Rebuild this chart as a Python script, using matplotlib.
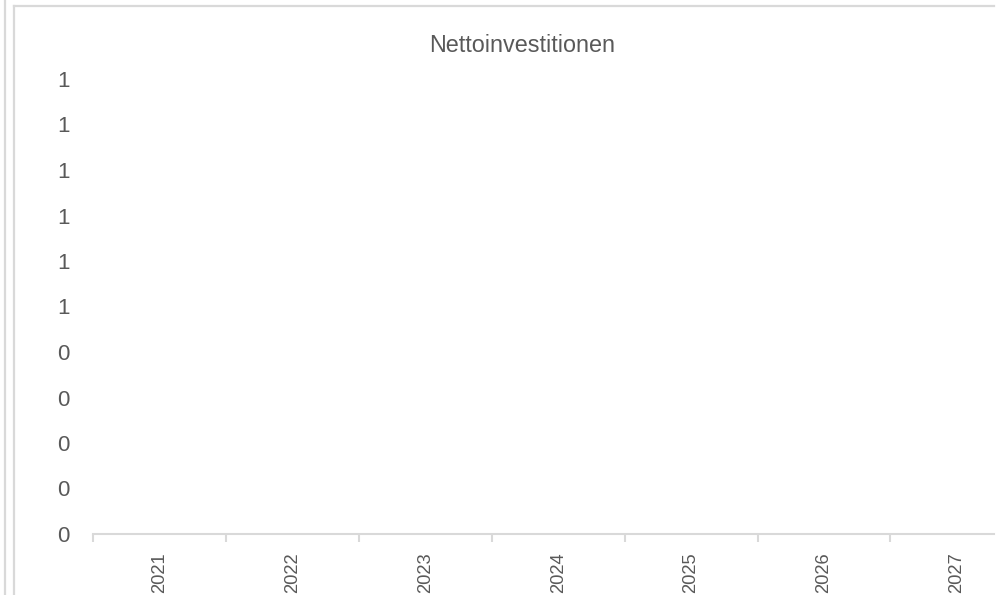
import matplotlib
matplotlib.use("Agg")
import matplotlib.pyplot as plt
from matplotlib.lines import Line2D

plt.rcParams['font.family'] = ['Liberation Sans', 'DejaVu Sans']

# data
years = ['2021', '2022', '2023', '2024', '2025', '2026', '2027']
values = [0, 0, 0, 0, 0, 0, 0]   # no visible series in the chart
y_ticks = [0.0, 0.1, 0.2, 0.3, 0.4, 0.5, 0.6, 0.7, 0.8, 0.9, 1.0]
y_labels = ['0', '0', '0', '0', '0', '1', '1', '1', '1', '1', '1']
title = 'Nettoinvestitionen'

W, H = 1004, 595
txt = '#595959'
grid = '#d9d9d9'

fig = plt.figure(figsize=(W / 100, H / 100), dpi=100)

# plot area: category slots are ~133 px wide, right side is cut at x=994
x0, x1 = 93, 994
y0, y1 = 534, 79
slot = 132.9
ax = fig.add_axes([x0 / W, (H - y0) / H, (x1 - x0) / W, (y0 - y1) / H])

pos = list(range(len(years)))
ax.bar(pos, values, width=0.6, color='#4472c4')
ax.set_xlim(-0.5, -0.5 + (x1 - x0) / slot)
ax.set_ylim(0, 1)

ax.set_yticks(y_ticks)
ax.set_yticklabels(y_labels)
ax.tick_params(axis='y', length=0, pad=17, labelsize=16, labelcolor=txt)

# category labels at centers, tick marks at boundaries
ax.set_xticks(pos)
ax.set_xticklabels(years, rotation=90)
ax.tick_params(axis='x', which='major', length=0, pad=13, labelsize=13.2,
               labelcolor=txt)
ax.set_xticks([p - 0.5 for p in pos], minor=True)
ax.tick_params(axis='x', which='minor', length=6, width=1.5, color=grid,
               direction='out')

for s in ['left', 'right', 'top']:
    ax.spines[s].set_visible(False)
ax.spines['bottom'].set_color(grid)
ax.spines['bottom'].set_linewidth(1.5)
ax.patch.set_visible(False)

fig.text(522 / W, 1 - 46 / H, title, ha='center', va='center',
         fontsize=16.8, color=txt)

# frame lines of the surrounding sheet
def fline(xs, ys):
    fig.add_artist(Line2D([x / W for x in xs], [1 - y / H for y in ys],
                          color=grid, lw=1.6))

fline([5, 5], [0, H])
fline([14.5, 14.5], [5.5, H])
fline([14.5, 994], [5.5, 5.5])

fig.savefig('out.png', dpi=100, facecolor='white')
